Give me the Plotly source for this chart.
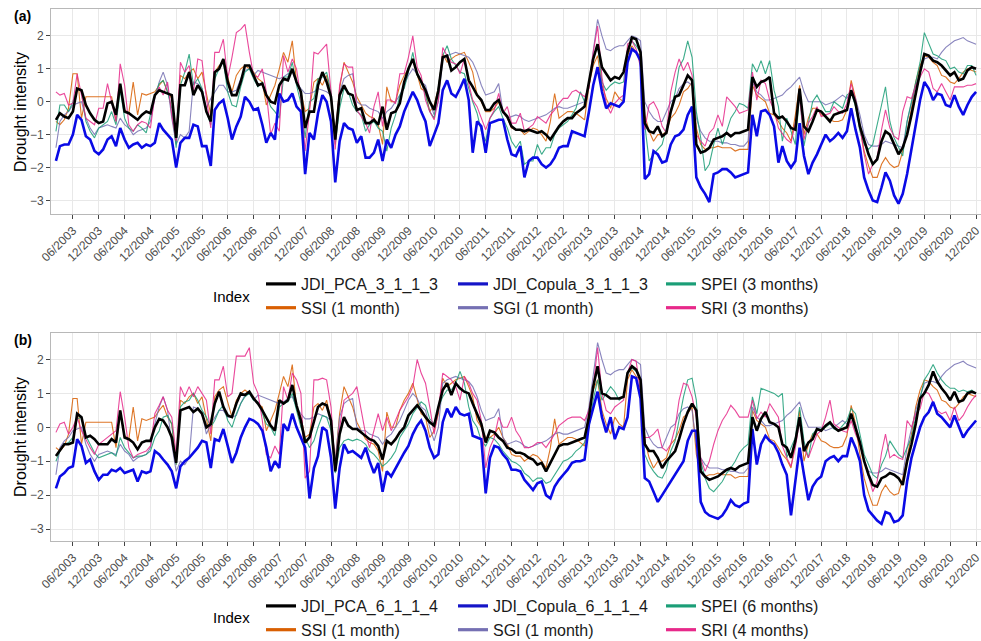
import pandas as pd
import plotly.graph_objects as go

# ---------------- data (monthly, Feb 2003 - Dec 2020) ----------------
dates = pd.date_range("2003-02-01", "2020-12-01", freq="MS")

jdi_pca_3 = [
    -0.55, -0.35, -0.45, -0.5, -0.3, 0.4, 0.35, -0.1, -0.35, -0.55, -0.65,
    -0.6, -0.05, 0.0, -0.4, 0.55, -0.3, -0.35, -0.45, -0.55, -0.4, -0.3, -0.35,
    0.2, 0.35, 0.3, 0.25, 0.2, -1.1, 0.5, 0.5, 0.9, 0.2, 0.5, 0.3,
    -0.3, -0.6, 0.9, 1.0, 1.3, 0.6, 0.2, 0.2, 0.6, 1.1, 1.1, 0.8,
    0.5, 0.55, 0.2, 0.0, -0.05, 0.5, 0.7, 0.65, 1.0, 0.6, 0.3, -0.8,
    -0.3, -0.3, 0.5, 0.9, 0.6, 0.15, -1.15, 0.2, 0.5, 0.25, 0.2, -0.25,
    -0.2, -0.65, -0.65, -0.55, -0.7, -0.15, -0.85, -0.35, -0.3, -0.05, 0.6, 1.0,
    1.3, 0.85, 0.6, 0.35, 0.0, -0.25, 0.35, 1.35, 1.4, 0.95, 1.05, 1.2,
    1.3, 0.65, 0.45, 0.2, 0.05, -0.25, -0.25, -0.05, 0.05, -0.3, -0.45, -0.75,
    -0.85, -0.85, -0.9, -0.85, -0.9, -0.95, -0.9, -1.0, -1.15, -0.95, -0.75, -0.6,
    -0.5, -0.5, -0.35, -0.25, -0.15, 0.6, 1.3, 1.75, 1.05, 0.85, 0.65, 0.75,
    0.7, 0.9, 1.5, 1.95, 1.9, 1.5, -0.65, -0.9, -0.95, -0.75, -1.05, -0.95,
    -0.3, 0.15, 0.2, 0.5, 0.8, 0.65, -1.3, -1.55, -1.5, -1.4, -1.15, -1.1,
    -1.05, -0.95, -1.05, -0.95, -0.95, -0.9, -0.85, 0.75, 0.45, 0.6, 0.65, 0.75,
    -0.35, -0.5, -0.45, -0.6, -0.8, -0.85, 0.4, -0.75, -0.9, -0.6, -0.25, -0.3,
    -0.45, -0.6, -0.4, -0.35, -0.3, -0.25, 0.35, -0.05, -0.75, -1.2, -1.6, -1.9,
    -1.75, -1.2, -0.9, -1.0, -1.3, -1.6, -1.4, -1.0, -0.4, 0.3, 0.9, 1.45,
    1.4, 1.25, 1.2, 1.1, 0.95, 0.8, 0.9, 0.65, 0.7, 0.95, 1.05, 1.0,
]

jdi_copula_3 = [
    -1.8, -1.35, -1.3, -1.3, -1.0, -0.4, -0.55, -1.05, -1.15, -1.5, -1.6,
    -1.45, -1.15, -1.05, -1.35, -0.8, -1.15, -1.4, -1.3, -1.25, -1.4, -1.3, -1.35,
    -1.25, -0.65, -0.85, -1.0, -1.15, -2.0, -1.25, -1.1, -1.1, -0.7, -0.75, -1.35,
    -1.35, -1.95, -0.25, -0.05, 0.05, -0.5, -1.15, -0.75, -0.45, 0.15, 0.0, -0.25,
    -0.2, -0.7, -1.25, -0.95, -1.15, 0.25, 0.0, 0.05, 0.25, -0.15, -0.3, -2.2,
    -0.95, -1.15, -0.35, 0.2, 0.0, -0.6, -2.45, -1.2, -0.65, -0.8, -0.85, -1.25,
    -1.05, -1.7, -1.7, -1.55, -1.15, -1.8, -1.15, -1.4, -1.0, -0.75, -0.3, 0.0,
    0.3, 0.05, -0.3, -0.6, -1.35, -1.0, -0.65, 0.35, 0.65, 0.25, 0.15, 0.4,
    0.7, 0.05, -1.55, -0.6, -0.75, -1.55, -0.65, -0.6, -0.55, -0.55, -1.15, -1.6,
    -1.65, -1.35, -2.3, -1.8, -1.7, -1.7, -1.9, -2.0, -1.9, -1.7, -1.4, -1.35,
    -1.35, -0.9, -0.95, -1.0, -1.05, -0.3, 0.5, 1.05, 0.3, -0.2, -0.05, -0.1,
    -0.15, 0.0, 1.2, 1.6, 1.5, 1.25, -2.35, -2.2, -1.5, -1.6, -1.85, -1.8,
    -1.3, -1.05, -1.0, -0.85, -0.4, -0.15, -2.3, -2.6, -2.8, -3.05, -2.2, -2.15,
    -2.05, -2.05, -2.15, -2.3, -2.25, -2.2, -2.15, -0.4, -1.05, -0.3, -0.25, -0.4,
    -0.75, -1.85, -1.35, -1.8, -2.0, -1.8, -0.65, -1.65, -2.2, -1.85, -1.6, -1.3,
    -1.0, -1.2, -1.1, -0.95, -1.1, -0.9, -0.2, -0.85, -1.4, -2.3, -2.7, -3.0,
    -3.05, -2.6, -2.15, -2.4, -2.85, -3.1, -2.8, -2.2, -1.45, -0.7, 0.05, 0.6,
    0.4, 0.05, 0.25, 0.2, -0.1, -0.15, 0.2, -0.15, -0.4, -0.1, 0.15, 0.3,
]

spei_3 = [
    -0.9, -0.1, -0.1, -0.3, 0.0, 0.4, 0.3, -0.6, -0.9, -1.1, -0.8,
    -0.7, -0.6, -0.3, -0.7, 0.35, -0.5, -0.8, -0.9, -0.7, -0.8, -0.95, -0.4,
    0.2, 0.55, 0.65, 0.3, -0.2, -1.4, 0.5, 0.9, 1.45, 0.5, 0.7, 0.4,
    -0.3, -0.7, 0.7, 1.0, 1.2, 0.3, -0.1, -0.15, 0.45, 0.9, 1.0, 0.7,
    0.45, 0.6, 0.2, -0.15, -0.3, -0.5, 0.75, 0.75, 1.2, 0.5, -0.05, -1.1,
    0.0, 0.1, 0.7, 0.75, 0.9, 0.3, -1.3, -0.2, 0.4, 0.3, -0.1, -0.3,
    -0.4, -0.9, -0.7, -0.6, -0.8, -0.9, -1.5, -0.8, -0.4, 0.2, 0.4, 0.9,
    1.5, 0.8, 0.6, 0.2, -0.3, -0.5, 0.4, 1.4, 1.7, 1.3, 1.1, 0.9,
    0.85, 0.4, 0.0, -0.35, -0.9, -1.2, -0.5, -0.3, -0.15, -0.5, -0.8, -1.2,
    -1.4, -1.2, -1.9, -1.8, -1.8, -1.3, -1.6, -1.4, -1.4, -1.0, -0.8, -0.7,
    -0.6, -0.4, -0.2, 0.3, 0.0, 0.5, 1.3, 1.75, 0.6, 0.35, 0.5, 0.6,
    0.55, 0.6, 1.6, 1.85, 1.7, 1.5, -0.7, -1.8, -1.6, -1.45, -1.3, -0.8,
    -0.2, 0.3, 1.05, 1.3, 1.85, 1.35, -0.3, -1.1, -2.1, -1.9, -1.3, -0.8,
    -1.3, -0.9, -0.5, -0.3, -0.05, -0.1, -0.2, 1.15, 0.9, 1.25, 0.85, 1.25,
    0.35, -0.15, -1.2, -0.5, -0.9, -1.3, 0.25, -1.35, -0.65, 0.0, 0.2, -0.05,
    -0.3, -0.3, 0.0, -0.1, -0.2, 0.2, 0.3, -0.15, -0.9, -1.3, -1.45, -1.3,
    -0.65, -0.1, 0.45, -0.6, -1.1, -1.4, -1.65, -0.6, 0.0, 0.6, 1.2, 2.1,
    1.75, 1.45, 1.4, 1.3, 1.25, 1.0, 1.05, 0.9, 0.85, 1.1, 1.1, 0.8,
]

ssi_1 = [
    -0.6, -0.7, -0.55, -0.2, 0.85, 0.85, -0.5, 0.15, 0.15, 0.15, 0.15,
    0.15, 0.15, 0.15, -0.6, 0.5, -0.25, -0.35, 0.6, -0.4, 0.25, 0.2, 0.25,
    0.3, 0.5, 0.65, 0.3, 0.1, -1.1, 0.8, 0.7, 0.9, 1.0, 0.7, 0.9,
    0.2, -0.4, 0.9, 1.1, 1.2, 0.7, 0.3, 0.8, 1.0, 1.1, 1.0, 0.9,
    0.7, 0.6, -0.1, 0.2, 0.5, 1.0, 1.5, 1.2, 1.85, 0.6, 0.3, -0.3,
    -0.2, 0.6, 0.7, 0.5, 0.8, 0.2, -1.0, 0.4, 1.2, 0.9, 0.6, 0.15,
    -0.1, -0.35, -0.45, -0.5, -0.7, -1.3, 0.45, 0.0, 0.0, 0.5, 0.8, 1.0,
    1.3, 0.8, 0.4, 0.3, -0.3, -0.1, 0.4, 1.45, 1.2, 1.3, 1.4, 1.45,
    1.5, 1.2, 0.9, 0.2, 0.0, -0.3, -0.3, -0.2, 0.0, -0.3, -0.5, -0.8,
    -0.85, -0.85, -1.0, -0.9, -0.8, -0.85, -1.0, -1.2, -0.6, 0.25, -0.5, -0.4,
    -0.3, -0.3, -0.35, -0.45, -0.55, 0.5, 1.1, 1.4, 0.5, 0.1, -0.2, 0.3,
    0.1, 0.0, 1.4, 1.7, 1.5, 1.4, -0.4, -0.9, -1.2, -1.0, -1.0, -0.9,
    -0.5, -0.35, -0.1, 0.3, 0.4, 0.6, -0.8, -1.3, -1.45, -1.4, -1.4, -1.35,
    -1.4, -1.4, -1.4, -1.5, -1.45, -1.45, -1.45, 0.5, 0.2, 0.1, 0.0, -0.35,
    -0.4, -0.6, -0.8, -0.95, -1.2, -0.4, 0.5, -1.0, -0.5, -0.2, -0.2, -0.4,
    -0.45, -0.55, -0.6, -0.6, -0.55, -0.25, 0.65, 0.1, -0.8, -1.5, -1.95, -2.3,
    -2.3, -1.9, -1.7, -1.9, -2.0, -1.95, -1.5, -0.9, -0.2, 0.6, 1.1, 1.4,
    1.35, 1.2, 1.1, 0.8, 0.75, 0.6, 0.55, 0.7, 0.9, 1.0, 0.95, 0.9,
]

sgi_1 = [
    -1.4, -0.6, -0.4, -0.3, -0.1, -0.05, 0.0, -0.5, -0.8, -1.0, -0.8,
    -0.75, -0.7, -0.75, -0.8, -0.5, -0.7, -0.8, -1.0, -0.9, -0.85, -0.8, -0.6,
    0.1, 0.6, 0.9, 0.5, -0.5, -1.3, -1.0, -1.1, -0.9, 0.6, 0.55, 0.4,
    -0.2, 0.1, 0.3, 0.5, 0.5, 0.3, 0.3, 0.35, 0.7, 0.95, 1.0, 0.8,
    0.95, 0.9, 0.85, 0.8, 0.75, 0.7, 0.75, 0.85, 0.9, 0.6, 0.4, 0.25,
    0.25, 0.3, 0.4, 0.35, 0.3, 0.2, -1.0, 0.3, 0.7, 0.8, 0.85, 0.0,
    -0.1, -0.1, -0.2, -0.25, -0.3, -0.5, -0.3, -0.2, 0.0, 0.2, 0.5, 0.8,
    1.0, 0.85, 0.6, 0.5, 0.0, -0.4, 0.0, 1.3, 1.4, 1.45, 1.5, 1.45,
    1.4, 1.35, 1.2, 0.9, 0.5, 0.2, 0.25, 0.3, 0.55, -0.3, -0.5, -0.45,
    -0.4, -0.45, -0.55, -0.6, -0.55, -0.5, -0.45, -0.4, -0.3, -0.2, -0.15, -0.2,
    -0.2, -0.15, -0.1, -0.05, 0.0, 0.6, 1.5, 2.5, 2.0, 1.6, 1.55, 1.65,
    1.7, 1.7, 1.85, 2.0, 1.95, 1.85, 0.0, -0.3, -0.5, -0.6, -0.6, -0.3,
    0.0, 0.1, 0.4, 0.55, 0.6, 0.5, -0.5, -0.9, -1.1, -1.2, -1.2, -1.2,
    -1.25, -1.25, -1.3, -1.3, -1.35, -1.35, -1.2, 0.6, 0.3, 0.2, 0.05, 0.05,
    0.1, 0.15, 0.2, 0.35, 0.45, 0.6, 0.75, 0.3, 0.0, 0.0, 0.0, 0.0,
    -0.1, -0.05, 0.0, 0.1, 0.2, 0.1, 0.35, 0.1, -0.4, -1.0, -1.3, -1.35,
    -1.35, -1.3, -1.2, -1.25, -1.3, -1.35, -1.4, -0.6, 0.0, 0.5, 0.9, 1.3,
    1.35, 1.35, 1.3, 1.5, 1.65, 1.75, 1.85, 1.9, 1.95, 1.85, 1.8, 1.75,
]

sri_3 = [
    0.3, 0.2, 0.25, -0.1, -0.05, 0.85, 0.2, -0.5, -0.6, -0.7, -0.2,
    -0.2, 0.55, 0.0, -0.6, 1.15, 0.5, -0.7, -0.9, -0.7, -0.6, -0.65, -0.8,
    0.2, 0.45, 0.2, 0.6, -0.4, -1.2, 1.2, 0.9, 1.1, 0.3, 1.3, 1.25,
    0.1, -0.8, 1.5, 1.5, 1.9, 0.7, 1.35, 2.1, 2.2, 2.35, 1.5, 0.8,
    0.75, 1.0, 0.3, -1.0, -0.65, -0.9, 1.4, 0.9, 1.3, 1.0, 0.1, -1.5,
    -0.3, 1.5, 1.45, 1.6, 1.75, 0.3, -1.45, 0.5, 1.15, 1.05, 1.05, -0.25,
    -0.45, -0.65, -0.95, -0.15, 0.3, -0.75, 0.05, 0.05, -0.05, 0.85, 0.85, 1.35,
    2.0, 1.05, 0.8, 0.05, -0.3, -0.55, 0.05, 1.65, 1.4, 1.2, 1.15, 0.85,
    1.3, 0.55, 0.05, -0.15, -0.5, -0.85, -0.5, -0.25, 0.25, -0.35, -0.15, -0.65,
    -0.65, -0.35, -0.9, -0.8, -0.7, -0.45, -0.55, -0.65, -0.4, -0.25, -0.05, 0.1,
    0.1, 0.3, 0.35, 0.25, 0.15, 0.4, 1.5, 2.3, 0.75, -0.05, -0.35, -0.05,
    0.1, 0.2, 1.75, 1.85, 1.6, 1.05, -0.85, -0.1, 0.0, -0.25, -0.75, -0.95,
    0.3, 0.9, 1.3, 0.95, 1.2, 0.8, -1.0, -1.2, -1.35, -0.95, -0.8, -0.4,
    -0.75, 0.15, 0.0, -0.15, -0.35, -0.3, -0.25, 0.9, 0.05, 0.65, 0.55, 0.05,
    -0.25, -0.8, -0.95, -1.15, -1.25, -0.65, 0.15, -1.15, -0.65, -0.45, -0.15, -0.45,
    -0.4, -0.35, -0.15, -0.3, -0.35, -0.05, 0.55, 0.05, -0.75, -1.6, -2.2, -1.9,
    -1.7, -0.85, -0.25, -0.8, -1.05, -1.15, -0.3, 0.15, 0.1, 0.5, 0.75, 1.0,
    0.9, 0.4, 0.3, 0.55, 0.3, 0.05, 0.45, 0.45, 0.45, 0.5, 0.5, 0.55,
]

jdi_pca_6 = [
    -0.85, -0.7, -0.5, -0.5, -0.45, 0.4, 0.3, -0.3, -0.25, -0.35, -0.5,
    -0.5, -0.5, -0.35, -0.45, 0.5, -0.3, -0.35, -0.45, -0.65, -0.45, -0.4, -0.4,
    0.0, 0.25, 0.2, 0.0, -0.3, -1.05, 0.5, 0.55, 0.6, 0.45, 0.55, 0.4,
    0.0, 0.1, 0.7, 1.05, 0.6, 0.35, 0.3, 0.7, 1.0, 0.95, 1.05, 0.85,
    0.7, 0.5, 0.3, 0.05, -0.1, 0.8, 0.7, 0.8, 1.25, 0.65, 0.2, -0.45,
    -0.3, 0.2, 0.6, 0.7, 0.65, 0.2, -1.3, -0.2, 0.3, 0.05, -0.05, -0.05,
    -0.15, -0.25, -0.35, -0.4, -0.55, -0.95, -0.4, -0.5, -0.35, -0.15, 0.0, 0.35,
    0.5, 0.65, 0.5, 0.3, 0.15, 0.05, 0.6, 1.1, 1.3, 0.95, 1.3, 1.15,
    1.05, 1.0, 0.7, 0.4, 0.1, -0.45, -0.1, -0.15, -0.3, -0.4, -0.6, -0.65,
    -0.75, -0.75, -0.8, -0.9, -0.95, -1.1, -1.05, -1.3, -1.05, -0.8, -0.55, -0.5,
    -0.5, -0.45, -0.4, -0.35, -0.3, 0.3, 1.2, 1.8, 1.0, 0.95, 0.85, 0.85,
    0.85, 0.9, 1.6, 1.8, 1.7, 1.4, -0.5, -0.7, -0.7, -0.9, -1.2, -1.0,
    -0.85, -0.7, -0.35, 0.1, 0.45, 0.7, 0.5, -1.3, -1.45, -1.55, -1.5, -1.45,
    -1.35, -1.25, -1.2, -1.25, -1.15, -1.1, -1.05, 0.3, -0.1, 0.25, 0.45, 0.15,
    0.1, 0.0, -0.5, -0.6, -0.9, -0.4, 0.3, -0.7, -0.45, -0.35, -0.05, -0.1,
    0.05, 0.15, 0.0, -0.1, -0.05, 0.0, 0.4, -0.05, -0.45, -1.0, -1.4, -1.7,
    -1.75, -1.5, -1.45, -1.35, -1.4, -1.5, -1.7, -1.0, -0.5, 0.1, 0.85, 1.0,
    1.25, 1.65, 1.35, 1.15, 1.0, 0.8, 1.05, 0.75, 0.8, 1.0, 1.05, 1.0,
]

jdi_copula_6 = [
    -1.8, -1.45, -1.35, -1.2, -1.15, -0.35, -0.55, -1.05, -0.95, -1.3, -1.55,
    -1.4, -1.4, -1.25, -1.3, -1.2, -1.35, -1.3, -1.25, -1.6, -1.3, -1.35, -1.3,
    -0.7, -0.8, -0.95, -1.1, -1.3, -1.8, -1.15, -1.0, -0.9, -0.75, -0.6, -0.4,
    -0.45, -1.2, -0.35, -0.4, -0.05, -0.55, -1.05, -0.75, -0.3, 0.0, 0.25, 0.2,
    0.1, -0.1, -0.6, -1.3, -1.0, -1.2, 0.1, -0.1, 0.4, 0.0, -0.3, -0.6,
    -2.1, -1.2, -0.85, 0.0, -0.1, -0.9, -2.4, -1.2, -0.5, -0.75, -0.7, -0.8,
    -0.9, -0.6, -1.0, -1.35, -1.05, -1.9, -1.3, -1.45, -1.2, -1.0, -0.75, -0.55,
    -0.2, 0.05, 0.2, -0.1, -0.6, -0.9, -0.8, 0.15, 0.55, 0.3, 0.6, 0.4,
    0.35, 0.4, -0.25, -0.3, -0.35, -1.95, -0.9, -0.55, -0.6, -0.8, -0.95, -1.25,
    -1.25, -1.3, -1.55, -1.7, -1.85, -1.65, -1.6, -2.0, -2.1, -1.75, -1.55, -1.4,
    -1.25, -1.05, -1.0, -1.0, -0.95, 0.1, 0.6, 1.05, 0.3, -0.15, 0.3, -0.35,
    0.0, -0.05, 0.3, 1.5, 1.45, 0.85, -1.5, -1.6, -1.9, -2.2, -2.0, -1.8,
    -1.6, -1.4, -1.2, -1.0, -0.4, -0.1, -0.1, -2.2, -2.5, -2.6, -2.65, -2.7,
    -2.6, -2.4, -2.15, -2.3, -2.35, -2.25, -2.2, -0.05, -1.1, -0.5, -0.25, -0.4,
    -0.5, -0.75, -1.1, -1.4, -2.6, -1.65, -0.6, -1.4, -2.15, -1.75, -1.55, -1.45,
    -1.0, -0.9, -0.85, -1.0, -0.85, -0.85, -0.3, -0.6, -1.0, -2.0, -2.45, -2.6,
    -2.75, -2.85, -2.5, -2.55, -2.8, -2.75, -2.6, -1.6, -0.9, -0.45, 0.0, 0.3,
    0.45, 0.75, 0.4, 0.3, 0.15, 0.0, 0.35, 0.05, -0.3, -0.1, 0.05, 0.2,
]

spei_6 = [
    -1.0, -0.7, -0.5, -0.45, -0.3, 0.25, 0.3, -0.25, -0.5, -0.75, -0.9,
    -0.85, -0.8, -0.75, -0.85, -0.3, -0.6, -0.75, -0.9, -0.85, -0.85, -0.8, -0.7,
    -0.3, -0.1, 0.3, 0.35, 0.1, -1.1, 0.6, 0.75, 0.8, 1.0, 0.8, 0.5,
    0.3, 0.0, 0.2, 0.5, 0.65, 0.2, 0.0, 0.4, 0.7, 0.9, 1.0, 0.8,
    0.75, 0.4, 0.1, 0.0, -0.25, 0.6, 0.7, 0.75, 1.0, 0.5, 0.0, -0.3,
    -0.6, -0.4, 0.0, 0.35, 0.3, -0.1, -1.35, -0.6, -0.4, -0.35, -0.4, -0.35,
    -0.4, -0.5, -0.7, -0.8, -0.95, -1.15, -1.05, -0.9, -0.7, -0.3, -0.1, 0.1,
    0.4, 0.6, 0.75, 0.65, 0.25, 0.1, 0.6, 0.9, 1.1, 1.1, 1.3, 1.65,
    1.3, 0.6, 0.2, 0.0, -0.4, -0.55, -0.3, -0.35, -0.5, -0.7, -0.85, -1.0,
    -1.05, -1.15, -1.35, -1.45, -1.6, -1.5, -1.5, -1.65, -1.6, -1.4, -1.2, -1.0,
    -0.95, -0.85, -0.7, -0.6, -0.45, 0.0, 0.8, 1.4, 0.8, 1.0, 1.2, 1.05,
    0.8, 0.9, 1.6, 1.75, 1.65, 1.4, -0.8, -1.1, -1.3, -1.45, -1.5, -1.25,
    -0.7, -0.4, 0.2, 0.9, 1.4, 1.45, 0.8, -1.0, -1.5, -1.8, -1.9, -1.75,
    -1.6, -1.35, -1.2, -1.0, -0.75, -0.6, -0.5, 0.9, 0.4, 1.15, 1.1, 1.05,
    1.0, 0.9, 1.0, -0.9, -0.6, -0.3, 0.6, -0.4, -0.9, -0.2, -0.05, -0.05,
    0.0, 0.1, -0.05, -0.1, 0.05, 0.2, 0.55, 0.4, -0.2, -0.8, -1.1, -1.4,
    -1.5, -1.1, -0.85, -0.4, -0.6, -0.8, -0.9, -0.6, -0.3, 0.3, 0.9, 1.4,
    1.6, 1.85, 1.6, 1.4, 1.25, 1.15, 1.15, 1.05, 1.1, 1.05, 1.1, 1.0,
]

sri_4 = [
    -0.15, 0.1, 0.15, -0.2, 0.0, 0.3, -0.1, -0.35, -0.6, -0.8, -0.5,
    -0.4, -0.3, -0.2, -0.1, 1.05, 0.3, -0.6, -0.9, -0.8, -0.75, -0.7, -0.55,
    0.4, 0.65, 0.9, 0.5, 0.3, -0.8, 1.2, 0.9, 1.2, 0.9, 1.2, 1.0,
    0.8, -0.2, 1.4, 1.4, 1.8, 0.9, 1.0, 2.1, 2.1, 2.1, 2.35, 1.3,
    1.0, 0.2, -0.8, -0.9, -0.55, -0.8, 1.2, 0.8, 1.6, 1.4, 1.0, -1.5,
    -1.3, 1.4, 1.4, 1.45, 1.4, 0.6, -1.2, 0.0, 0.8, 0.9, 1.0, 1.2,
    0.5, -0.2, -0.6, -0.1, 0.4, -0.1, 0.3, -0.1, 0.2, 0.5, 0.7, 0.9,
    1.2, 2.0, 1.6, 1.3, 0.6, -0.2, 0.5, 1.6, 1.5, 1.4, 1.2, 0.8,
    1.5, 1.3, 1.0, 0.8, 0.2, -1.2, -0.6, -0.3, 0.3, 0.0, 0.0, 0.3,
    -0.1, -0.3, -0.6, -0.6, -0.55, -0.45, -0.45, -0.6, -0.4, -0.2, 0.05, 0.15,
    0.25, 0.3, 0.3, 0.3, 0.2, 0.5, 1.2, 2.35, 1.0, 0.5, 0.4, 0.6,
    0.7, 0.8, 1.6, 2.0, 1.95, 1.0, -0.3, -0.3, -0.2, -0.05, -0.6, -0.7,
    -0.5, 0.0, 0.8, 1.3, 1.25, 0.9, 0.3, -0.9, -1.3, -1.0, -0.5, -0.1,
    0.2, 0.4, 0.65, 0.5, 0.3, 0.3, 0.3, 0.8, 0.25, 0.45, 0.3, 0.7,
    0.5, 0.3, -0.55, -0.9, -1.15, -0.6, 0.2, -0.6, -0.9, -0.55, -0.2, -0.1,
    0.3, 0.8, 0.1, 0.0, -0.1, -0.15, 0.2, -0.2, -0.5, -1.0, -1.5, -1.9,
    -1.6, -0.75, -0.2, -0.9, -0.8, -0.9, -0.95, 0.2, 0.0, 0.4, 0.55, 1.05,
    1.0, 0.75, 0.5, 0.4, 0.45, 0.2, 0.6, 0.2, 0.35, 0.6, 0.8, 0.95,
]

for _name, _arr in [("jdi_pca_3", jdi_pca_3), ("jdi_copula_3", jdi_copula_3),
                    ("spei_3", spei_3), ("ssi_1", ssi_1), ("sgi_1", sgi_1),
                    ("sri_3", sri_3), ("jdi_pca_6", jdi_pca_6),
                    ("jdi_copula_6", jdi_copula_6), ("spei_6", spei_6),
                    ("sri_4", sri_4)]:
    assert len(_arr) == len(dates), (_name, len(_arr))

tick_dates = pd.date_range("2003-06-01", "2020-12-01", freq="6MS")
tick_labels = [d.strftime("%m/%Y") for d in tick_dates]

# ---------------- styling ----------------
FONT = "Liberation Sans, Arial, sans-serif"
C_PCA = "#000000"
C_COP = "#0A0AE6"
C_SPEI = "#1B9E77"
C_SSI = "#D95F02"
C_SGI = "#7570B3"
C_SRI = "#E7298A"

W, H = 981, 641
ML, MR, MT, MB = 51, 0, 9, 100
PH = H - MT - MB  # plot height in px


def py(px_from_top):
    """paper y from pixel row"""
    return (H - MB - px_from_top) / PH


def pxx(px_from_left):
    return (px_from_left - ML) / (W - ML - MR)


fig = go.Figure()

panels = [
    dict(xa="x", ya="y", pca=jdi_pca_3, cop=jdi_copula_3, spei=spei_3, sri=sri_3,
         names=["JDI_PCA_3_1_1_3", "JDI_Copula_3_1_1_3", "SPEI (3 months)",
                "SSI (1 month)", "SGI (1 month)", "SRI (3 months)"],
         legends=["legend", "legend2", "legend3"]),
    dict(xa="x2", ya="y2", pca=jdi_pca_6, cop=jdi_copula_6, spei=spei_6, sri=sri_4,
         names=["JDI_PCA_6_1_1_4", "JDI_Copula_6_1_1_4", "SPEI (6 months)",
                "SSI (1 month)", "SGI (1 month)", "SRI (4 months)"],
         legends=["legend4", "legend5", "legend6"]),
]

for p in panels:
    thin = [(ssi_1, C_SSI), (sgi_1, C_SGI), (p["spei"], C_SPEI), (p["sri"], C_SRI)]
    for vals, col in thin:
        fig.add_trace(go.Scatter(x=dates, y=vals, mode="lines", xaxis=p["xa"], yaxis=p["ya"],
                                 line=dict(color=col, width=1.1), opacity=0.85,
                                 showlegend=False, hoverinfo="skip"))
    fig.add_trace(go.Scatter(x=dates, y=p["cop"], mode="lines", xaxis=p["xa"], yaxis=p["ya"],
                             line=dict(color=C_COP, width=2.6), showlegend=False, hoverinfo="skip"))
    fig.add_trace(go.Scatter(x=dates, y=p["pca"], mode="lines", xaxis=p["xa"], yaxis=p["ya"],
                             line=dict(color=C_PCA, width=2.6), showlegend=False, hoverinfo="skip"))
    # legend keys (3 columns x 2 rows)
    n = p["names"]
    keys = [(n[0], C_PCA, p["legends"][0]), (n[3], C_SSI, p["legends"][0]),
            (n[1], "#1515C8", p["legends"][1]), (n[4], C_SGI, p["legends"][1]),
            (n[2], C_SPEI, p["legends"][2]), (n[5], C_SRI, p["legends"][2])]
    for name, col, lg in keys:
        fig.add_trace(go.Scatter(x=[None], y=[None], mode="lines", name=name,
                                 xaxis=p["xa"], yaxis=p["ya"], legend=lg,
                                 line=dict(color=col, width=3.2), showlegend=True))

axis_common = dict(
    showgrid=True, gridcolor="#E8E8E8", gridwidth=1,
    showline=True, linecolor="#B8B8B8", linewidth=1, mirror=True,
    ticks="outside", ticklen=4, tickcolor="#444444", tickwidth=1,
    tickfont=dict(family=FONT, size=12, color="#4D4D4D"),
    zeroline=False,
)

x_range = ["2002-12-28", "2021-01-05"]
xaxis_common = dict(axis_common, domain=[0, 1], range=x_range,
                    tickvals=list(tick_dates), ticktext=tick_labels, tickangle=-45,
                    ticklabeloverflow="allow")
fig.update_layout(
    width=W, height=H, margin=dict(l=ML, r=MR, t=MT, b=MB, autoexpand=False),
    paper_bgcolor="white", plot_bgcolor="white",
    font=dict(family=FONT, color="#000000"),
    xaxis=dict(xaxis_common, anchor="y"),
    yaxis=dict(axis_common, domain=[py(214), 1.0], anchor="x", range=[-3.413, 2.818],
               tickvals=[-3, -2, -1, 0, 1, 2]),
    xaxis2=dict(xaxis_common, anchor="y2"),
    yaxis2=dict(axis_common, domain=[0, py(333.3)], anchor="x2", range=[-3.354, 2.773],
                tickvals=[-3, -2, -1, 0, 1, 2]),
)

legend_common = dict(orientation="v", xanchor="left", yanchor="top",
                     bgcolor="rgba(0,0,0,0)", borderwidth=0, tracegroupgap=0,
                     font=dict(family=FONT, size=16, color="#1A1A1A"),
                     itemclick=False, itemdoubleclick=False)
col_x = [261, 453, 661]
for i, row_top in enumerate([267, 589]):
    for j in range(3):
        key = "legend" if (i == 0 and j == 0) else f"legend{i * 3 + j + 1}"
        fig.update_layout({key: dict(legend_common, x=pxx(col_x[j]), y=py(row_top))})

annots = [
    dict(text="<b>(a)</b>", x=pxx(12), y=py(16), xanchor="left", yanchor="middle", font_size=14),
    dict(text="<b>(b)</b>", x=pxx(12), y=py(340), xanchor="left", yanchor="middle", font_size=14),
    dict(text="Drought intensity", x=pxx(20), y=py(112), textangle=-90,
         xanchor="center", yanchor="middle", font_size=16),
    dict(text="Drought intensity", x=pxx(20), y=py(437), textangle=-90,
         xanchor="center", yanchor="middle", font_size=16),
    dict(text="Index", x=pxx(231), y=py(296), xanchor="center", yanchor="middle", font_size=15),
    dict(text="Index", x=pxx(231), y=py(617), xanchor="center", yanchor="middle", font_size=15),
]
for a in annots:
    fs = a.pop("font_size")
    fig.add_annotation(xref="paper", yref="paper", showarrow=False,
                       font=dict(family=FONT, size=fs, color="#000000"), **a)

fig.write_html("out.html")
